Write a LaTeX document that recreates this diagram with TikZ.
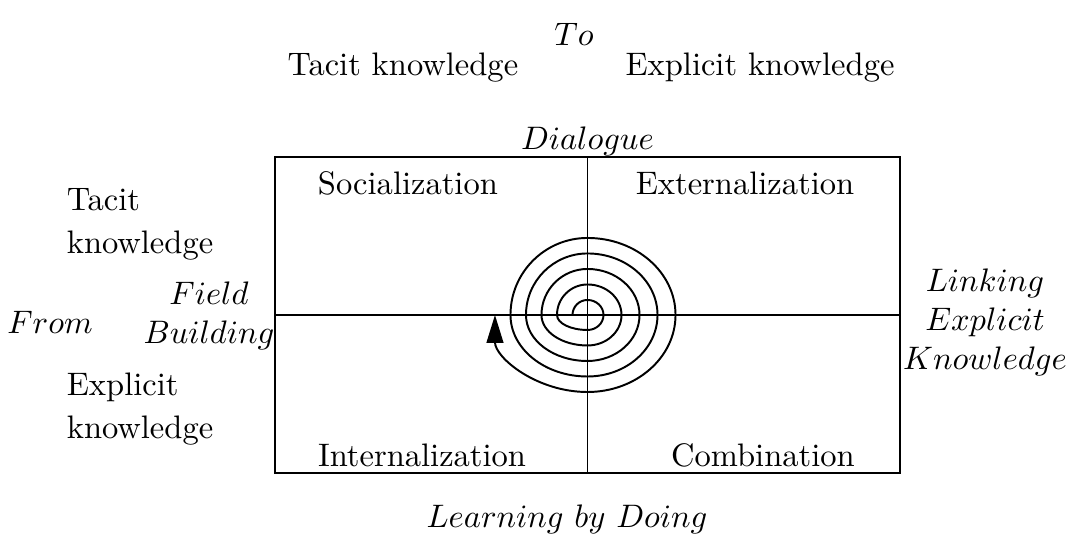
\documentclass[tikz,border=0pt]{standalone}
\usetikzlibrary{arrows.meta,positioning}

\tikzset{
    quad/.style={font=\normalsize},
    side/.style={align=left,anchor=west},
    mode/.style={align=center}
}

\begin{document}
\begin{tikzpicture}[line width=0.6pt]
        \useasboundingbox (-2.97,-0.713) rectangle (8.543,5.108);
        % Box
        \draw (0,0) rectangle (6.75,3.413);
        \coordinate (c) at (3.375,1.706);
        \coordinate (top) at (3.375,3.413);
        \coordinate (bot) at (3.375,0);
        \coordinate (lft) at (0,1.706);
        \coordinate (rgt) at (6.75,1.706);
        \draw (top) -- (bot);
        \draw (lft) -- (rgt);

        % Quadrants
        \node[quad] (soc) at (1.436,3.132) {Socialization};
        \node[quad] (ext) at (5.076,3.132) {Externalization};
        \node[quad] (int) at (1.588,0.194) {Internalization};
        \node[quad] (com) at (5.270,0.194) {Combination};

        % Top labels
        \node (to) at (3.229,4.740) {\(To\)};
        \node (tacittop) at (1.382,4.380) {Tacit knowledge};
        \node (explicittop) at (5.238,4.380) {Explicit knowledge};
        \node[above=0pt of top, inner sep=0pt] (dialogue) {\(Dialogue\)};
        \node (doing) at (3.154,-0.497) {\(Learning\ by\ Doing\)};

        % Left labels
        \node[side] (tacitleft) at (-2.376,2.689) {Tacit\\[1.2pt]knowledge};
        \node (from) at (-2.430,1.631) {\(From\)};
        \node[mode] (field) at (-0.713,1.696) {\(Field\)\\\(Building\)};
        \node[side] (explicitleft) at (-2.376,0.691) {Explicit\\[1.2pt]knowledge};

        % Right label
        \node[mode] (linking) at (7.668,1.631) {\(Linking\)\\\(Explicit\)\\\(Knowledge\)};

        % Spiral
        \draw[-{Triangle[length=3mm,width=1.8mm]}] (c) ++(-0.162,0)
            \foreach \n [evaluate=\n as \ra using (15+15.5*\n)*0.0108,
                         evaluate=\n as \rb using (16+18*\n)*0.0108,
                         evaluate=\n as \rc using (15+15.5*(\n+1))*0.0108] in {0,...,4} {
                arc[start angle=180,end angle=90,radius=\ra cm]
                arc[start angle=90,end angle=0,x radius=\rb cm,y radius=\ra cm]
                arc[start angle=0,end angle=-90,x radius=\rb cm,y radius=\ra cm]
                arc[start angle=-90,end angle=-180,x radius=\rc cm,y radius=\ra cm]
            };
    \end{tikzpicture}
\end{document}
